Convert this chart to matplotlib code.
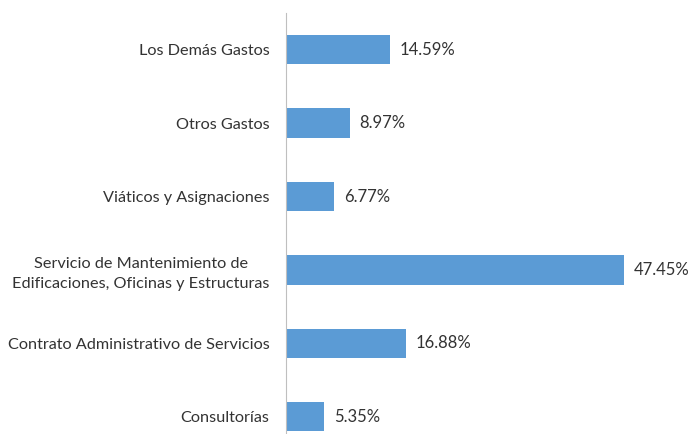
import matplotlib.pyplot as plt

categories = ["Consultorías",
              "Contrato Administrativo de Servicios",
              "Servicio de Mantenimiento de\nEdificaciones, Oficinas y Estructuras",
              "Viáticos y Asignaciones",
              "Otros Gastos",
              "Los Demás Gastos"]
values = [5.35, 16.88, 47.45, 6.77, 8.97, 14.59]

plt.rcParams['font.family'] = ['Lato', 'DejaVu Sans']

W, H = 692, 434
fig = plt.figure(figsize=(W / 100, H / 100), dpi=100)
ax = fig.add_axes([286 / W, 0, 1 - 286 / W, 421 / H])

pos = range(len(categories))
ax.barh(pos, values, height=0.4, color='#5B9BD5')
for y, v in zip(pos, values):
    ax.annotate(f"{v:.2f}%", (v, y), xytext=(7, 0), textcoords='offset points',
                va='center', ha='left', fontsize=12, color='#333333')

ax.set_xlim(0, (W - 286) / 7.13)
ax.set_ylim(-0.235, 5.5)
ax.set_yticks(list(pos))
ax.set_yticklabels(categories, fontsize=11.7, color='#333333', ha='right',
                   multialignment='center', linespacing=1.55)
ax.tick_params(axis='y', length=0, pad=12)
ax.set_xticks([])
for s in ['top', 'right', 'bottom']:
    ax.spines[s].set_visible(False)
ax.spines['left'].set_color('#BFBFBF')

fig.savefig('out.png', dpi=100)
